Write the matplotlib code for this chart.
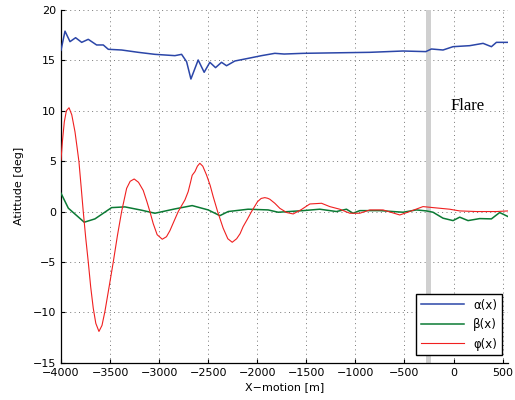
import numpy as np
import matplotlib
matplotlib.use('Agg')
import matplotlib.pyplot as plt

# values
alpha_x = [-4000, -3959, -3908, -3851, -3789, -3722, -3637, -3569, -3518, -3382,
           -3213, -3043, -2839, -2771, -2720, -2676, -2602, -2541, -2483, -2425,
           -2364, -2313, -2228, -2093, -1956, -1821, -1726, -1532, -1200, -853,
           -514, -283, -225, -107, -5, 165, 301, 386, 437, 555]
alpha_y = [16.0, 17.9, 16.86, 17.25, 16.79, 17.09, 16.53, 16.53, 16.1, 16.03,
           15.8, 15.6, 15.47, 15.6, 14.87, 13.15, 15.04, 13.82, 14.81, 14.28,
           14.81, 14.47, 14.94, 15.2, 15.47, 15.7, 15.63, 15.7, 15.75, 15.8,
           15.93, 15.87, 16.13, 16.03, 16.36, 16.46, 16.69, 16.36, 16.79, 16.79]

beta_x = [-4000, -3925, -3763, -3654, -3484, -3348, -3178, -3043, -2839, -2663,
          -2500, -2381, -2296, -2093, -1889, -1787, -1532, -1363, -1193, -1091,
          -1024, -955, -751, -514, -378, -276, -209, -107, -5, 63, 148, 267,
          386, 470, 555]
beta_y = [1.82, 0.33, -1.06, -0.73, 0.39, 0.46, 0.13, -0.17, 0.26, 0.59,
          0.16, -0.41, 0.0, 0.23, 0.16, -0.07, 0.09, 0.23, 0.0, 0.23,
          -0.17, 0.09, 0.09, -0.07, 0.16, 0.06, -0.07, -0.66, -0.9, -0.56, -0.9, -0.7,
          -0.73, -0.1, -0.5]

phi_x = [-4000, -3985, -3966, -3945, -3918, -3890, -3857, -3835, -3817, -3795,
         -3773, -3748, -3722, -3697, -3671, -3645, -3613, -3582, -3552, -3510,
         -3467, -3425, -3382, -3331, -3295, -3254, -3210, -3162, -3125, -3094,
         -3060, -3020, -2968, -2925, -2890, -2850, -2805, -2770, -2737, -2704,
         -2680, -2663, -2635, -2610, -2585, -2555, -2517, -2480, -2449, -2404,
         -2347, -2300, -2255, -2210, -2175, -2144, -2100, -2058, -1997, -1960,
         -1923, -1895, -1872, -1821, -1770, -1700, -1634, -1550, -1464, -1345,
         -1261, -1159, -1057, -955, -853, -718, -548, -446, -311, -209, -39,
         63, 233, 437, 555]
phi_y = [5.1, 7.0, 8.9, 10.0, 10.3, 9.6, 7.9, 6.3, 4.95, 2.5,
         0.0, -2.6, -5.0, -7.5, -9.6, -11.1, -11.9, -11.3, -9.9, -7.5,
         -5.0, -2.4, 0.0, 2.3, 3.0, 3.23, 2.9, 2.1, 1.0, 0.0,
         -1.2, -2.3, -2.75, -2.5, -1.9, -1.0, 0.0, 0.6, 1.15, 1.97,
         2.9, 3.6, 3.96, 4.5, 4.79, 4.5, 3.63, 2.6, 1.48, 0.0,
         -1.66, -2.7, -3.05, -2.7, -2.2, -1.5, -0.75, 0.0, 0.98, 1.3,
         1.38, 1.32, 1.22, 0.82, 0.32, -0.1, -0.24, 0.2, 0.75, 0.82,
         0.49, 0.23, -0.17, -0.17, 0.16, 0.16, -0.34, 0.0, 0.49, 0.39, 0.23,
         0.06, 0.0, 0.0, 0.06]

flare_x = (-285, -230)
xticks = np.arange(-4000, 501, 500)
yticks = np.arange(-15, 21, 5)

fig = plt.figure(figsize=(5.15, 4.0), dpi=100)
ax = fig.add_axes([0.1184, 0.0933, 0.868, 0.8817])

ax.axvspan(flare_x[0], flare_x[1], color='#d0d0d0', lw=0, zorder=1)
ax.plot(alpha_x, alpha_y, color='#2b46a8', lw=1.1, label='\u03b1(x)', zorder=3)
ax.plot(beta_x, beta_y, color='#0b7a34', lw=1.1, label='\u03b2(x)', zorder=3)
ax.plot(phi_x, phi_y, color='#f02020', lw=0.8, label='\u03c6(x)', zorder=3)

ax.text(-30, 10.1, 'Flare', family='Liberation Serif', fontsize=12)

ax.set_xlim(-4000, 555)
ax.set_ylim(-15, 20)
ax.set_xticks(xticks)
ax.set_yticks(yticks)
ax.tick_params(direction='in', length=3, labelsize=8, width=0.8)
ax.grid(True, color='#777777', linestyle=(0, (1, 3.5)), linewidth=0.7)
ax.set_axisbelow(True)
for s in ['top', 'right']:
    ax.spines[s].set_visible(False)
for s in ['left', 'bottom']:
    ax.spines[s].set_linewidth(0.9)

ax.set_xlabel('X\u2212motion [m]', fontsize=8, labelpad=3)
ax.set_ylabel('Atittude [deg]', fontsize=8, labelpad=6)

leg = ax.legend(loc='lower right', bbox_to_anchor=(0.986, 0.021), borderaxespad=0,
                fontsize=8.5, fancybox=False, framealpha=1, edgecolor='black',
                handlelength=3.6, labelspacing=0.55)
leg.get_frame().set_linewidth(1.0)

fig.savefig('out.png', dpi=100)
